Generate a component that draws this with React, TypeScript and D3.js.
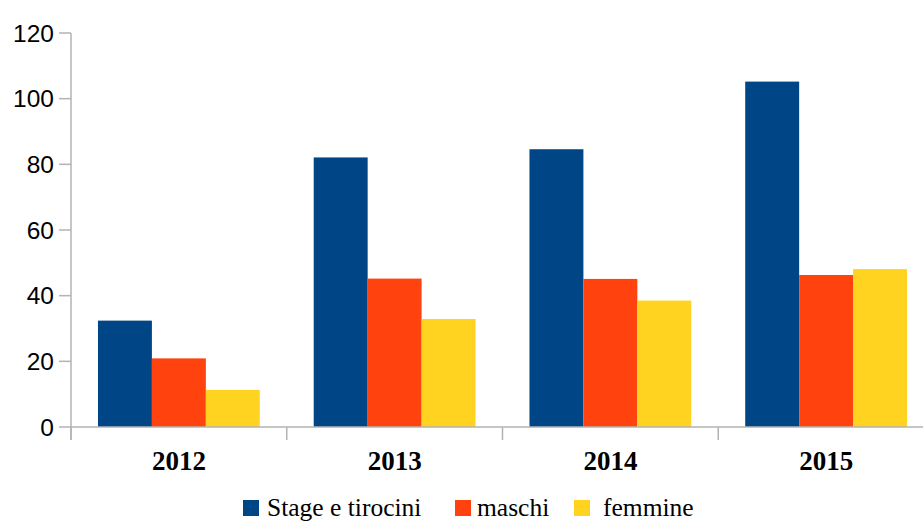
import React from "react";
import * as d3 from "d3";

const categories = ["2012", "2013", "2014", "2015"];
const seriesNames = ["Stage e tirocini", "maschi", "femmine"];
const stageTirocini = [32.4, 82.1, 84.6, 105.2];
const maschi = [20.9, 45.2, 45.1, 46.3];
const femmine = [11.3, 32.9, 38.5, 48.1];
const yTicks = [0, 20, 40, 60, 80, 100, 120];
const colors = ["#004586", "#ff420e", "#ffd320"];

const W = 923;
const H = 521;
const left = 71;
const right = 934;
const top = 33;
const bottom = 427;

const serif = "'Liberation Serif', 'Times New Roman', serif";
const sans = "'Liberation Sans', Arial, sans-serif";

export default function App() {
  const series = [stageTirocini, maschi, femmine];
  const x = d3.scaleBand<string>().domain(categories).range([left, right]).padding(0);
  const xi = d3
    .scaleBand<number>()
    .domain([0, 1, 2])
    .range([0, x.bandwidth()])
    .paddingInner(0)
    .paddingOuter(0.5);
  const y = d3.scaleLinear().domain([0, 120]).range([bottom, top]);
  const axisColor = "#b3b3b3";

  const legendItems = [
    { sx: 243, tx: 267, label: seriesNames[0] },
    { sx: 455, tx: 477, label: seriesNames[1] },
    { sx: 574, tx: 603, label: seriesNames[2] },
  ];

  return (
    <svg
      width={W}
      height={H}
      style={{ position: "absolute", left: 0, top: 0, background: "#fff" }}
    >
      {categories.map((c, ci) =>
        series.map((s, si) => (
          <rect
            key={c + si}
            x={(x(c) as number) + (xi(si) as number)}
            y={y(s[ci])}
            width={xi.bandwidth()}
            height={bottom - y(s[ci])}
            fill={colors[si]}
          />
        ))
      )}
      <line x1={left} x2={left} y1={top} y2={bottom + 13} stroke={axisColor} strokeWidth={1.5} />
      {yTicks.map((t) => (
        <g key={t}>
          <line x1={left - 12} x2={left} y1={y(t)} y2={y(t)} stroke={axisColor} strokeWidth={1.5} />
          <text
            x={54}
            y={y(t)}
            dy="0.36em"
            textAnchor="end"
            fontFamily={sans}
            fontSize={24.5}
            fill="#000"
          >
            {t}
          </text>
        </g>
      ))}
      <line x1={left} x2={W} y1={bottom} y2={bottom} stroke={axisColor} strokeWidth={1.5} />
      {categories.map((c) => (
        <line
          key={"t" + c}
          x1={x(c) as number}
          x2={x(c) as number}
          y1={bottom}
          y2={bottom + 13}
          stroke={axisColor}
          strokeWidth={1.5}
        />
      ))}
      {categories.map((c) => (
        <text
          key={"l" + c}
          x={(x(c) as number) + x.bandwidth() / 2}
          y={470}
          textAnchor="middle"
          fontFamily={serif}
          fontWeight="bold"
          fontSize={27}
          fill="#000"
        >
          {c}
        </text>
      ))}
      {legendItems.map((it, i) => (
        <g key={"lg" + i}>
          <rect x={it.sx} y={500} width={16} height={16} fill={colors[i]} />
          <text
            x={it.tx}
            y={516}
            fontFamily={serif}
            fontSize={25.5}
            fill="#000"
          >
            {it.label}
          </text>
        </g>
      ))}
    </svg>
  );
}
